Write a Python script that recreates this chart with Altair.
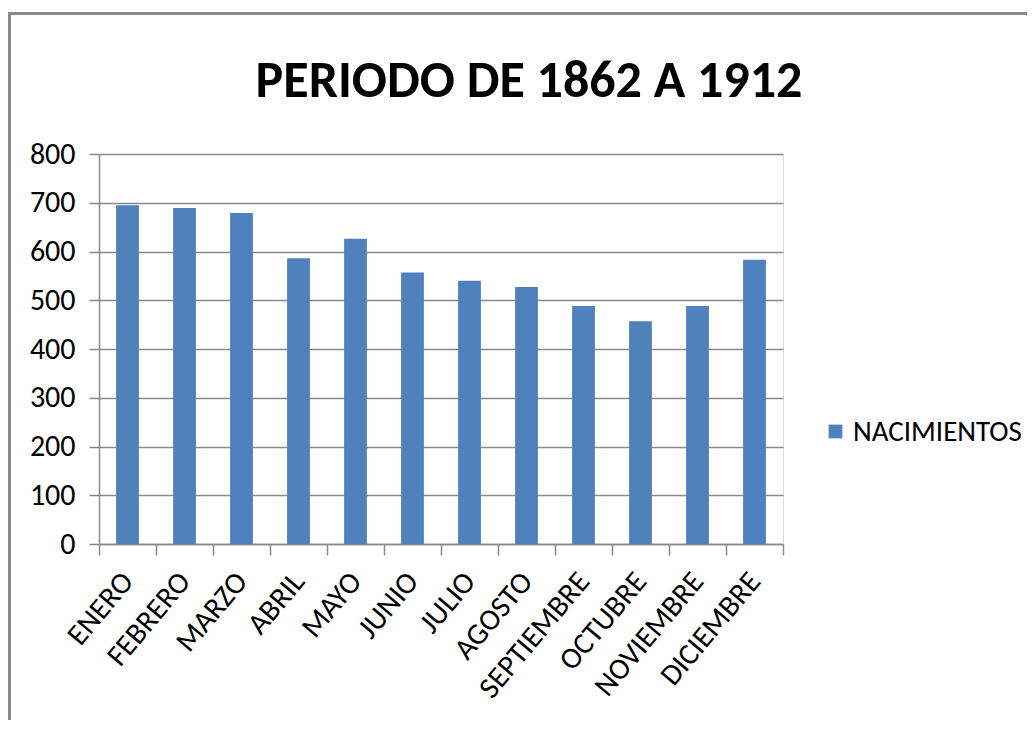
import altair as alt
import pandas as pd

months = ["ENERO", "FEBRERO", "MARZO", "ABRIL", "MAYO", "JUNIO", "JULIO",
          "AGOSTO", "SEPTIEMBRE", "OCTUBRE", "NOVIEMBRE", "DICIEMBRE"]
births = [695, 689, 679, 586, 626, 557, 540, 527, 488, 457, 488, 583]
series_name = "NACIMIENTOS"
y_ticks = [0, 100, 200, 300, 400, 500, 600, 700, 800]
title_text = "PERIODO DE 1862 A 1912"

df = pd.DataFrame({"mes": months, "valor": births, "serie": [series_name] * len(months)})
title_df = pd.DataFrame({"t": [title_text]})

FONT = "Carlito, 'Liberation Sans Narrow', 'DejaVu Sans Condensed', sans-serif"
GRAY = "#8a8a8a"
BLUE = "#4F81BD"

W, H = 684, 390
PL, PT = 91, 146

bars = alt.Chart(df).mark_bar(width=alt.RelativeBandSize(0.4)).encode(
    x=alt.X("mes:N", sort=months,
            scale=alt.Scale(paddingInner=0, paddingOuter=0),
            axis=alt.Axis(title=None, labelAngle=-50, labelAlign="right",
                          labelBaseline="middle", tickBand="extent", tickSize=11,
                          tickColor=GRAY, tickWidth=1.5, domainColor=GRAY, domainWidth=1.5,
                          labelFontSize=30, labelPadding=21, labelFont=FONT,
                          labelColor="black", grid=False)),
    y=alt.Y("valor:Q", scale=alt.Scale(domain=[0, 800], nice=False),
            axis=alt.Axis(values=y_ticks, title=None, tickSize=10, tickColor=GRAY,
                          tickWidth=1.5, domainColor=GRAY, domainWidth=1.5,
                          gridColor=GRAY, gridWidth=1.5, labelFontSize=30,
                          labelFont=FONT, labelColor="black", labelPadding=14)),
    color=alt.Color("serie:N", scale=alt.Scale(range=[BLUE]),
                    legend=alt.Legend(title=None, orient="none", legendX=722, legendY=263,
                                      symbolType="square", symbolSize=190,
                                      symbolStrokeWidth=0, labelFontSize=29,
                                      labelFont=FONT, labelColor="black",
                                      labelOffset=3, labelLimit=400)),
)

title_mark = alt.Chart(title_df).mark_text(
    font=FONT, fontSize=52, fontWeight="bold", color="black",
    align="center", baseline="alphabetic").encode(
    text="t:N", x=alt.value(430), y=alt.value(-57))

frame_top = alt.Chart(title_df).mark_rule(color=GRAY, strokeWidth=3).encode(
    x=alt.value(-91), x2=alt.value(1035 - 8 - 99), y=alt.value(13.5 - 154))
frame_left = alt.Chart(title_df).mark_rule(color=GRAY, strokeWidth=3).encode(
    x=alt.value(9.5 - 99), y=alt.value(13.5 - 154), y2=alt.value(729 - 154))

chart = alt.layer(bars, title_mark, frame_top, frame_left).properties(
    width=W, height=H,
    autosize=alt.AutoSizeParams(type="none"),
    padding={"left": PL, "top": PT, "right": 1035 - 16 - PL - W, "bottom": 176},
).configure_view(stroke=None).configure(background="white")

chart.save("out.html", embed_options={"renderer": "svg", "actions": False})
